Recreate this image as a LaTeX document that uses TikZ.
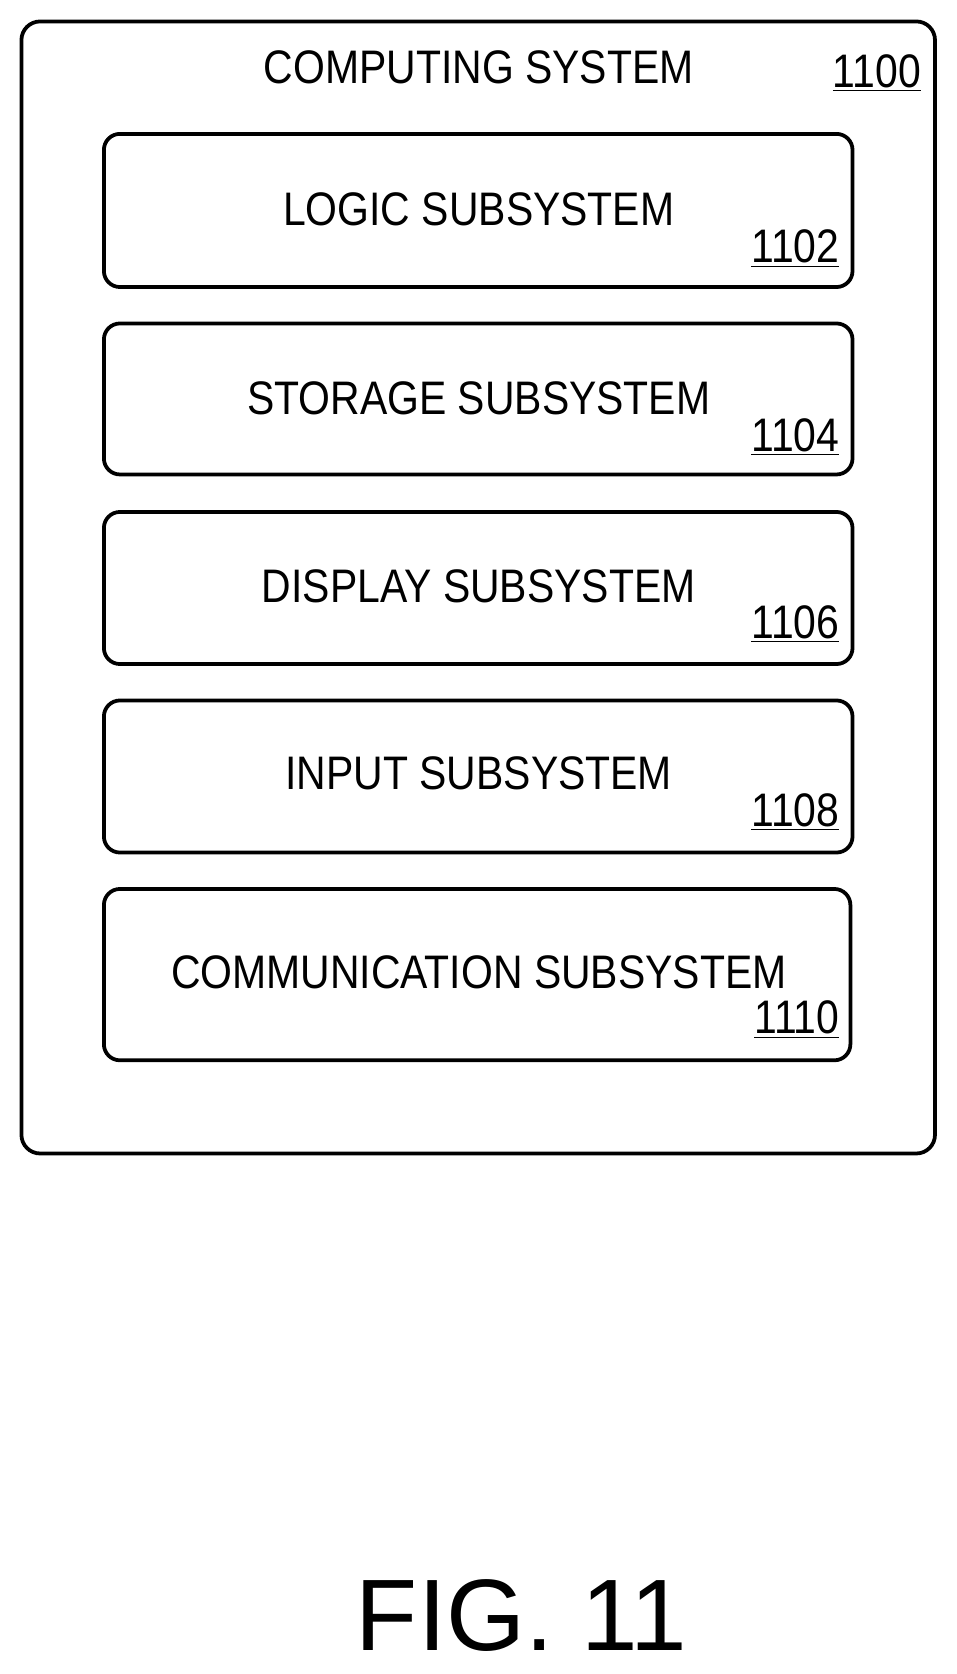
\documentclass[tikz,border=0pt]{standalone}
\usepackage{fontspec}
\setmainfont{Liberation Sans}
\usepackage{graphicx}
\begin{document}
\begin{tikzpicture}[x=0.02cm,y=-0.02cm,
  box/.style={draw,line width=2pt,rounded corners=0.3cm},
  lab/.style={font=\fontsize{25}{25}\selectfont},
  num/.style={font=\fontsize{25}{25}\selectfont,anchor=east}]
\useasboundingbox (0,0) rectangle (893,1563);
\draw[box,rounded corners=0.35cm] (20,20) rectangle (873,1077);
\node[lab] (title) at (447,63) {\scalebox{0.87}[1]{COMPUTING SYSTEM}};
\node[num] (n0) at (866,68) {\scalebox{0.87}[1]{\underline{1100}}};
\foreach \i/\t/\b/\ty/\ny/\txt/\n/\r in {
  1/125/268/195/232/LOGIC SUBSYSTEM/1102/796,
  2/302/443/372/408/STORAGE SUBSYSTEM/1104/796,
  3/478/620/547/583/DISPLAY SUBSYSTEM/1106/796,
  4/654/796/722/758/INPUT SUBSYSTEM/1108/796,
  5/830/990/908/952/COMMUNICATION SUBSYSTEM/1110/794}{
  \draw[box] (97,\t) rectangle (\r,\b);
  \node[lab] (l\i) at (447,\ty) {\scalebox{0.87}[1]{\txt}};
  \node[num] (n\i) at (790,\ny) {\scalebox{0.87}[1]{\underline{\n}}};
}
\node[font=\fontsize{54}{54}\selectfont] (fig) at (487,1508) {FIG. 11};
\end{tikzpicture}
\end{document}
